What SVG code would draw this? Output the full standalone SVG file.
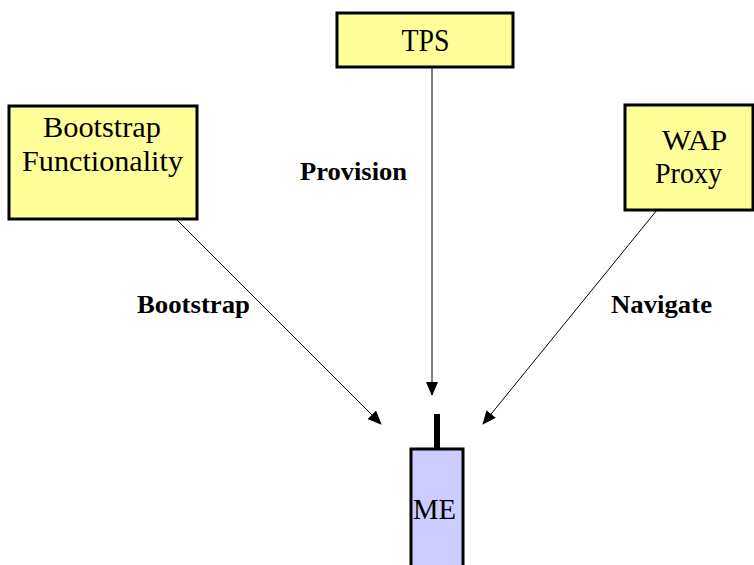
<svg xmlns="http://www.w3.org/2000/svg" width="754" height="565" viewBox="0 0 754 565">
<style>
.box{fill:#ffff99;stroke:#000;stroke-width:3}
.me{fill:#ccccff;stroke:#000;stroke-width:3}
.t{font-family:"Liberation Serif",serif;font-size:30px;text-anchor:middle;fill:#000}
.big{font-size:32px}
.lbl{font-family:"Liberation Serif",serif;font-size:26px;font-weight:bold;text-anchor:middle;fill:#000}
.c{stroke:#000;stroke-width:1;fill:none;marker-end:url(#ah)}
</style>
<defs>
<marker id="ah" markerWidth="14" markerHeight="12" refX="13" refY="6" orient="auto" markerUnits="userSpaceOnUse">
<path d="M0,0 L14,6 L0,12 Z" fill="#000"/>
</marker>
</defs>
<rect width="754" height="565" fill="#fff"/>
<g id="connectors">
<line class="c" x1="432" y1="67" x2="432" y2="395"/>
<line class="c" x1="176" y1="219" x2="381" y2="424"/>
<line class="c" x1="657" y1="210" x2="483" y2="424"/>
</g>
<g id="tps">
<rect class="box" x="337" y="13" width="176" height="54"/>
<text class="t big" x="425.5" y="51" textLength="48" lengthAdjust="spacingAndGlyphs">TPS</text>
</g>
<g id="bootstrap-functionality">
<rect class="box" x="9" y="106" width="188" height="113"/>
<text class="t" x="102" y="137" textLength="118" lengthAdjust="spacingAndGlyphs">Bootstrap</text>
<text class="t" x="102.5" y="171" textLength="161" lengthAdjust="spacingAndGlyphs">Functionality</text>
</g>
<g id="wap-proxy">
<rect class="box" x="625" y="105" width="128" height="105"/>
<text class="t" x="694.5" y="150" textLength="65" lengthAdjust="spacingAndGlyphs">WAP</text>
<text class="t" x="688.5" y="183" textLength="67" lengthAdjust="spacingAndGlyphs">Proxy</text>
</g>
<g id="me">
<rect x="434" y="414" width="6" height="34" fill="#000"/>
<rect class="me" x="411" y="449" width="52" height="120"/>
<text class="t" x="434.5" y="519" textLength="43" lengthAdjust="spacingAndGlyphs">ME</text>
</g>
<g id="labels">
<text class="lbl" x="353.5" y="180" textLength="107" lengthAdjust="spacingAndGlyphs">Provision</text>
<text class="lbl" x="193.5" y="313" textLength="113" lengthAdjust="spacingAndGlyphs">Bootstrap</text>
<text class="lbl" x="661.5" y="313" textLength="101" lengthAdjust="spacingAndGlyphs">Navigate</text>
</g>
</svg>
